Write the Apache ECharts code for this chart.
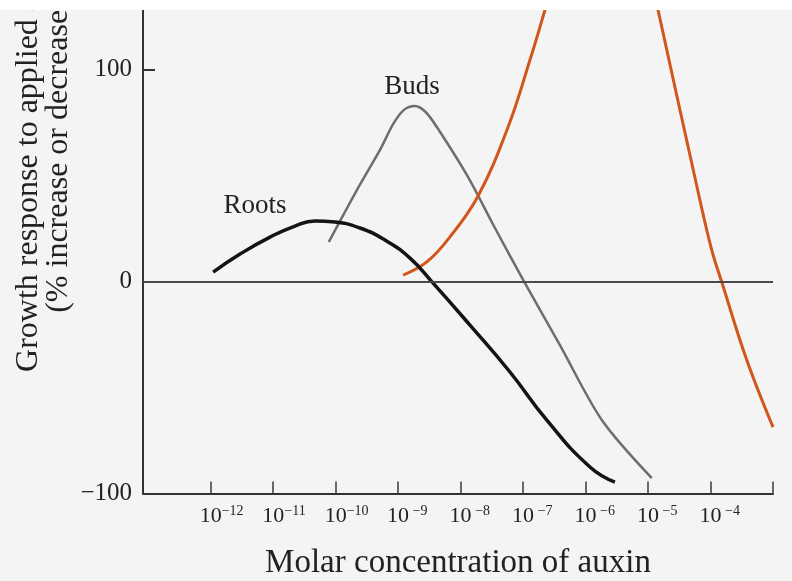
<!DOCTYPE html>
<html>
<head>
<meta charset="utf-8">
<script src="https://cdn.jsdelivr.net/npm/echarts@6/dist/echarts.min.js"></script>
<style>
html,body{margin:0;padding:0;background:#ffffff;width:792px;height:581px;overflow:hidden;}
#chart{position:absolute;left:0;top:10px;width:792px;height:571px;}
</style>
</head>
<body>
<div id="chart"></div>
<script>
// x values are log10 of molar auxin concentration
var xTickValues = [-12, -11, -10, -9, -8, -7, -6, -5, -4, -3];
var xLabelValues = [-12, -11, -10, -9, -8, -7, -6, -5, -4];
var xLabelExponents = ['\u221212', '\u221211', '\u221210', '\u22129', '\u22128', '\u22127', '\u22126', '\u22125', '\u22124'];
var yTickValues = [-100, 0, 100];
var yTickLabels = ['\u2212100', '0', '100'];

var rootsData = [
  [-11.96, 4.4], [-11.53, 12.9], [-11.05, 20.9], [-10.65, 26.1], [-10.33, 28.5],
  [-10.01, 28.0], [-9.61, 25.2], [-9.21, 19.5], [-8.81, 11.0], [-8.44, -0.8],
  [-7.85, -20.6], [-7.21, -42.7], [-6.62, -65.4], [-5.93, -87.5], [-5.53, -94.6]
];
var budsData = [
  [-10.11, 18.6], [-9.66, 43.1], [-9.29, 62.0], [-9.08, 74.2], [-8.91, 80.8],
  [-8.73, 82.7], [-8.56, 79.9], [-8.38, 72.8], [-7.88, 49.2], [-7.45, 25.2],
  [-6.97, -0.8], [-6.41, -30.0], [-5.74, -65.3], [-4.94, -92.7]
];
var stemsRiseData = [
  [-8.92, 3.0], [-8.54, 9.2], [-8.17, 21.0], [-7.72, 40.3], [-7.24, 72.8],
  [-6.89, 104.4], [-6.65, 128], [-6.55, 138]
];
var stemsFallData = [
  [-4.90, 136], [-4.84, 128], [-4.17, 38.4], [-3.98, 14.8], [-3.82, -0.3],
  [-3.42, -37.1], [-3.0, -68.7]
];

var serif = '"Liberation Serif", "DejaVu Serif", serif';
var chart = echarts.init(document.getElementById('chart'), null, {renderer: 'canvas'});
chart.setOption({
  backgroundColor: '#f4f4f5',
  animation: false,
  grid: {left: 143, right: 19, top: 0, bottom: 87.5, containLabel: false, outerBoundsMode: 'none'},
  xAxis: {
    type: 'value', min: -13.083, max: -3,
    name: 'Molar concentration of auxin',
    nameLocation: 'middle', nameGap: 53,
    nameTextStyle: {fontFamily: serif, fontSize: 33, lineHeight: 33, color: '#222'},
    axisLine: {show: true, onZero: false, lineStyle: {color: '#333', width: 2}},
    axisTick: {show: true, inside: true, length: 12, customValues: xTickValues, lineStyle: {color: '#3a3a3a', width: 1.5}},
    splitLine: {show: false},
    axisLabel: {
      customValues: xLabelValues, margin: 11,
      formatter: function (v) {
        var i = xLabelValues.indexOf(Math.round(v));
        if (i < 0) return '';
        return '{pad|}{base|10}{sup|' + xLabelExponents[i] + '}';
      },
      rich: {
        pad: {width: 22, fontSize: 14},
        base: {fontFamily: serif, fontSize: 22, color: '#222', lineHeight: 23, verticalAlign: 'middle'},
        sup: {fontFamily: serif, fontSize: 14, color: '#222', lineHeight: 16, width: 22, align: 'left', verticalAlign: 'top'}
      }
    }
  },
  yAxis: {
    type: 'value', min: -100, max: 128,
    axisLine: {show: true, onZero: false, lineStyle: {color: '#333', width: 2}},
    axisTick: {show: true, inside: true, length: 12, customValues: yTickValues, lineStyle: {color: '#333', width: 2}},
    splitLine: {show: false},
    axisLabel: {
      customValues: yTickValues, margin: 11,
      fontFamily: serif, fontSize: 25, color: '#222',
      formatter: function (v) {
        var i = yTickValues.indexOf(Math.round(v));
        return i < 0 ? '' : yTickLabels[i];
      }
    }
  },
  graphic: [
    {type: 'text', x: 44, y: 146, rotation: Math.PI / 2,
     style: {text: 'Growth response to applied auxin\n(% increase or decrease)', fontFamily: serif, fontSize: 32, lineHeight: 30,
             fill: '#222', textAlign: 'center', textVerticalAlign: 'middle'}},
    {type: 'text', x: 255, y: 196,
     style: {text: 'Roots', fontFamily: serif, fontSize: 27, fill: '#222', textAlign: 'center', textVerticalAlign: 'middle'}},
    {type: 'text', x: 412, y: 77,
     style: {text: 'Buds', fontFamily: serif, fontSize: 27, fill: '#222', textAlign: 'center', textVerticalAlign: 'middle'}}
  ],
  series: [
    {name: 'Roots', type: 'line', data: rootsData, smooth: 0.5, showSymbol: false,
     lineStyle: {color: '#141414', width: 3.5}, z: 4,
     markLine: {silent: true, symbol: ['none', 'none'], label: {show: false},
                lineStyle: {color: '#4a4a4a', width: 2, type: 'solid'}, data: [{yAxis: 0}]}},
    {name: 'Buds', type: 'line', data: budsData, smooth: 0.3, showSymbol: false,
     lineStyle: {color: '#6e6e6e', width: 2.5}, z: 3},
    {name: 'Stems', type: 'line', data: stemsRiseData, smooth: 0.4, showSymbol: false, clip: true,
     lineStyle: {color: '#d2561b', width: 3}, z: 3},
    {name: 'Stems', type: 'line', data: stemsFallData, smooth: 0.4, showSymbol: false, clip: true,
     lineStyle: {color: '#d2561b', width: 3}, z: 3}
  ]
});
</script>
</body>
</html>
